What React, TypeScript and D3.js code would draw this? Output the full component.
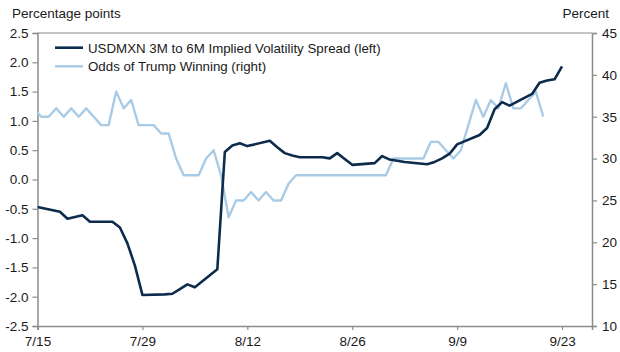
import React, { useEffect, useRef } from 'react';
import * as d3 from 'd3';

// USDMXN 3M-6M implied vol spread (left axis), business days
const spreadDates = [
  '7/15', '7/18', '7/19', '7/20', '7/21', '7/22', '7/25', '7/26', '7/27', '7/28', '7/29',
  '8/1', '8/2', '8/3', '8/4', '8/5', '8/8', '8/9', '8/10', '8/11', '8/12',
  '8/15', '8/16', '8/17', '8/18', '8/19', '8/22', '8/23', '8/24', '8/25', '8/26',
  '8/29', '8/30', '8/31', '9/1', '9/2', '9/5', '9/6', '9/7', '9/8', '9/9',
  '9/12', '9/13', '9/14', '9/15', '9/16', '9/19', '9/20', '9/21', '9/22', '9/23'
];
const spreadValues = [
  -0.47, -0.55, -0.67, -0.64, -0.61, -0.72, -0.72, -0.82, -1.09, -1.47, -1.97,
  -1.96, -1.95, -1.87, -1.79, -1.84, -1.53, 0.47, 0.58, 0.62, 0.57,
  0.66, 0.55, 0.45, 0.41, 0.38, 0.38, 0.36, 0.45, 0.35, 0.25,
  0.28, 0.40, 0.34, 0.32, 0.30, 0.26, 0.30, 0.36, 0.44, 0.60,
  0.76, 0.88, 1.20, 1.32, 1.26, 1.46, 1.65, 1.69, 1.71, 1.93
];

// Odds of Trump winning (right axis), daily
const oddsDates = [
  '7/14', '7/15', '7/16', '7/17', '7/18', '7/19', '7/20', '7/21', '7/22', '7/23', '7/24',
  '7/25', '7/26', '7/27', '7/28', '7/29', '7/30', '7/31', '8/1', '8/2', '8/3', '8/4',
  '8/5', '8/6', '8/7', '8/8', '8/9', '8/10', '8/11', '8/12', '8/13', '8/14', '8/15',
  '8/16', '8/17', '8/18', '8/19', '8/20', '8/21', '8/22', '8/23', '8/24', '8/25', '8/26',
  '8/27', '8/28', '8/29', '8/30', '8/31', '9/1', '9/2', '9/3', '9/4', '9/5', '9/6',
  '9/7', '9/8', '9/9', '9/10', '9/11', '9/12', '9/13', '9/14', '9/15', '9/16', '9/17',
  '9/18', '9/19', '9/20'
];
const oddsValues = [
  36, 35, 35, 36, 35, 36, 35, 36, 35, 34, 34,
  38, 36, 37, 34, 34, 34, 33, 33, 30, 28, 28,
  28, 30, 31, 28, 23, 25, 25, 26, 25, 26, 25,
  25, 27, 28, 28, 28, 28, 28, 28, 28, 28, 28,
  28, 28, 28, 28, 30, 30, 30, 30, 30, 32, 32,
  31, 30, 31, 34, 37, 35, 37, 36, 39, 36, 36,
  37, 38, 35
];

const xTickDates = ['7/15', '7/29', '8/12', '8/26', '9/9', '9/23'];
const leftTicks = [-2.5, -2.0, -1.5, -1.0, -0.5, 0.0, 0.5, 1.0, 1.5, 2.0, 2.5];
const rightTicks = [10, 15, 20, 25, 30, 35, 40, 45];

const DARK = '#0d2b4c';
const LIGHT = '#a9cbe6';
const AXIS = '#8c8c8c';
const FONT = 'Liberation Sans, Arial, sans-serif';

const parse = (s: string) => d3.timeParse('%m/%d/%Y')(s + '/2016') as Date;

function App() {
  const ref = useRef<SVGSVGElement>(null);

  useEffect(() => {
    const width = 620;
    const height = 352;
    const left = 37.5;
    const right = 592;
    const top = 33;
    const bottom = 326;

    const svg = d3.select(ref.current);
    svg.selectAll('*').remove();

    const x = d3.scaleTime()
      .domain([parse('7/15'), parse('9/27')])
      .range([left, right]);
    const yL = d3.scaleLinear().domain([-2.5, 2.5]).range([bottom, top]);
    const yR = d3.scaleLinear().domain([10, 45]).range([bottom, top]);

    svg.append('clipPath').attr('id', 'plot-clip')
      .append('rect')
      .attr('x', left).attr('y', top - 5)
      .attr('width', right - left).attr('height', bottom - top + 10);

    // frame: top border + axes
    svg.append('line').attr('x1', left).attr('x2', right).attr('y1', top).attr('y2', top)
      .attr('stroke', AXIS).attr('stroke-width', 1.2);

    const leftAxis = svg.append('g').attr('transform', `translate(${left},0)`)
      .call(d3.axisLeft(yL).tickValues(leftTicks).tickFormat(d3.format('.1f')).tickSize(5).tickPadding(4));
    const rightAxis = svg.append('g').attr('transform', `translate(${right},0)`)
      .call(d3.axisRight(yR).tickValues(rightTicks).tickSize(5).tickPadding(5));
    const bottomAxis = svg.append('g').attr('transform', `translate(0,${bottom})`)
      .call(d3.axisBottom(x).tickValues(xTickDates.map(parse)).tickFormat(d3.timeFormat('%-m/%-d') as any).tickSize(4).tickPadding(6));

    [leftAxis, rightAxis, bottomAxis].forEach(g => {
      g.select('.domain').attr('stroke', AXIS).attr('stroke-width', 1.5);
      g.selectAll('.tick line').attr('stroke', AXIS).attr('stroke-width', 1.2);
      g.selectAll('.tick text')
        .attr('fill', '#1a1a1a')
        .style('font-family', FONT)
        .style('font-size', '13.5px');
    });
    leftAxis.selectAll('.tick text').text((d: any) => d3.format('.1f')(d).replace('−', '-'));

    // lines
    const lines = svg.append('g').attr('clip-path', 'url(#plot-clip)');

    const oddsData = oddsDates.map((d, i) => ({ date: d3.timeHour.offset(parse(d), 12), value: oddsValues[i] }));
    const spreadData = spreadDates.map((d, i) => ({ date: parse(d), value: spreadValues[i] }));

    lines.append('path')
      .datum(oddsData)
      .attr('fill', 'none')
      .attr('stroke', LIGHT)
      .attr('stroke-width', 2.4)
      .attr('stroke-linejoin', 'round')
      .attr('d', d3.line<any>().x(d => x(d.date)).y(d => yR(d.value)));

    lines.append('path')
      .datum(spreadData)
      .attr('fill', 'none')
      .attr('stroke', DARK)
      .attr('stroke-width', 2.6)
      .attr('stroke-linejoin', 'round')
      .attr('d', d3.line<any>().x(d => x(d.date)).y(d => yL(d.value)));

    // axis titles
    svg.append('text').attr('x', 12).attr('y', 18)
      .style('font-family', FONT).style('font-size', '13.5px').attr('fill', '#1a1a1a')
      .text('Percentage points');
    svg.append('text').attr('x', 609).attr('y', 18).attr('text-anchor', 'end')
      .style('font-family', FONT).style('font-size', '13.5px').attr('fill', '#1a1a1a')
      .text('Percent');

    // legend
    const legendItems = [
      { label: 'USDMXN 3M to 6M Implied Volatility Spread (left)', color: DARK, w: 2.6 },
      { label: 'Odds of Trump Winning (right)', color: LIGHT, w: 2.4 }
    ];
    const legend = svg.selectAll('.legend')
      .data(legendItems)
      .enter()
      .append('g')
      .attr('class', 'legend')
      .attr('transform', (d, i) => `translate(55, ${47.7 + i * 18.6})`);
    legend.append('line')
      .attr('x1', 0).attr('x2', 28).attr('y1', 0).attr('y2', 0)
      .attr('stroke', d => d.color).attr('stroke-width', d => d.w);
    legend.append('text')
      .attr('x', 33).attr('y', 5)
      .style('font-family', FONT).style('font-size', '13.3px').attr('fill', '#1a1a1a')
      .text(d => d.label);
  }, []);

  return (
    <div style={{ position: 'absolute', left: 0, top: 0 }}>
      <svg ref={ref} width={620} height={352} style={{ display: 'block', background: '#fff' }}></svg>
    </div>
  );
}

export default App;
